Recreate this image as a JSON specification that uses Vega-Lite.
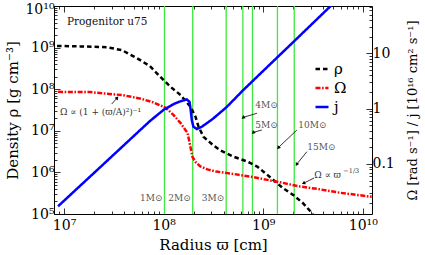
{
  "$schema": "https://vega.github.io/schema/vega-lite/v6.json",
  "width": 318,
  "height": 208,
  "autosize": {"type": "none"},
  "padding": {"left": 54, "top": 6, "right": 53, "bottom": 41},
  "background": "white",
  "config": {
    "view": {"stroke": null},
    "axis": {
      "grid": false,
      "domainColor": "black",
      "domainWidth": 1,
      "tickColor": "black",
      "tickWidth": 0.8,
      "labelColor": "black",
      "titleColor": "black",
      "labelFont": "DejaVu Serif",
      "titleFont": "DejaVu Serif",
      "titleFontWeight": "normal",
      "labelFontSize": 14,
      "titleFontSize": 15,
      "labelOverlap": false,
      "labelFlush": false,
      "labelBound": false
    }
  },
  "datasets": {
    "curves": [
      {"s": "ρ", "x": 8.51e6, "y": 1.10e9},
      {"s": "ρ", "x": 1.45e7, "y": 1.07e9},
      {"s": "ρ", "x": 2.69e7, "y": 1.02e9},
      {"s": "ρ", "x": 3.80e7, "y": 8.71e8},
      {"s": "ρ", "x": 5.37e7, "y": 5.62e8},
      {"s": "ρ", "x": 7.24e7, "y": 3.63e8},
      {"s": "ρ", "x": 8.51e7, "y": 2.45e8},
      {"s": "ρ", "x": 1.0e8, "y": 1.66e8},
      {"s": "ρ", "x": 1.17e8, "y": 1.15e8},
      {"s": "ρ", "x": 1.48e8, "y": 7.24e7},
      {"s": "ρ", "x": 1.86e8, "y": 3.80e7},
      {"s": "ρ", "x": 2.09e8, "y": 2.19e7},
      {"s": "ρ", "x": 2.24e8, "y": 1.26e7},
      {"s": "ρ", "x": 2.51e8, "y": 7.24e6},
      {"s": "ρ", "x": 2.82e8, "y": 5.62e6},
      {"s": "ρ", "x": 3.24e8, "y": 4.27e6},
      {"s": "ρ", "x": 3.72e8, "y": 3.39e6},
      {"s": "ρ", "x": 5.01e8, "y": 2.40e6},
      {"s": "ρ", "x": 6.92e8, "y": 1.82e6},
      {"s": "ρ", "x": 8.71e8, "y": 1.38e6},
      {"s": "ρ", "x": 1.10e9, "y": 8.71e5},
      {"s": "ρ", "x": 1.32e9, "y": 6.03e5},
      {"s": "ρ", "x": 1.58e9, "y": 4.17e5},
      {"s": "ρ", "x": 2.0e9, "y": 2.88e5},
      {"s": "ρ", "x": 2.51e9, "y": 1.82e5},
      {"s": "ρ", "x": 3.16e9, "y": 1.0e5},
      {"s": "Ω", "x": 8.71e6, "y": 2.01},
      {"s": "Ω", "x": 1.82e7, "y": 1.99},
      {"s": "Ω", "x": 3.89e7, "y": 1.75},
      {"s": "Ω", "x": 5.75e7, "y": 1.53},
      {"s": "Ω", "x": 7.76e7, "y": 1.31},
      {"s": "Ω", "x": 1.05e8, "y": 1.04},
      {"s": "Ω", "x": 1.26e8, "y": 0.764},
      {"s": "Ω", "x": 1.48e8, "y": 0.548},
      {"s": "Ω", "x": 1.74e8, "y": 0.362},
      {"s": "Ω", "x": 1.86e8, "y": 0.203},
      {"s": "Ω", "x": 1.95e8, "y": 0.134},
      {"s": "Ω", "x": 2.09e8, "y": 0.109},
      {"s": "Ω", "x": 2.34e8, "y": 0.0904},
      {"s": "Ω", "x": 2.75e8, "y": 0.0798},
      {"s": "Ω", "x": 3.39e8, "y": 0.0728},
      {"s": "Ω", "x": 5.01e8, "y": 0.0662},
      {"s": "Ω", "x": 7.41e8, "y": 0.0592},
      {"s": "Ω", "x": 1.10e9, "y": 0.0516},
      {"s": "Ω", "x": 1.58e9, "y": 0.0455},
      {"s": "Ω", "x": 2.34e9, "y": 0.0391},
      {"s": "Ω", "x": 3.47e9, "y": 0.0355},
      {"s": "Ω", "x": 5.89e9, "y": 0.0302},
      {"s": "Ω", "x": 1.23e10, "y": 0.0255},
      {"s": "j", "x": 8.71e6, "y": 0.0172},
      {"s": "j", "x": 2.30e7, "y": 0.0869},
      {"s": "j", "x": 5.80e7, "y": 0.408},
      {"s": "j", "x": 7.30e7, "y": 0.598},
      {"s": "j", "x": 1.01e8, "y": 0.966},
      {"s": "j", "x": 1.30e8, "y": 1.24},
      {"s": "j", "x": 1.50e8, "y": 1.37},
      {"s": "j", "x": 1.71e8, "y": 1.47},
      {"s": "j", "x": 1.82e8, "y": 1.33},
      {"s": "j", "x": 1.87e8, "y": 0.942},
      {"s": "j", "x": 1.92e8, "y": 0.622},
      {"s": "j", "x": 1.99e8, "y": 0.471},
      {"s": "j", "x": 2.16e8, "y": 0.428},
      {"s": "j", "x": 2.42e8, "y": 0.471},
      {"s": "j", "x": 3.10e8, "y": 0.647},
      {"s": "j", "x": 4.30e8, "y": 1.07},
      {"s": "j", "x": 6.25e8, "y": 2.13},
      {"s": "j", "x": 1.0e9, "y": 4.81},
      {"s": "j", "x": 2.0e9, "y": 15.9},
      {"s": "j", "x": 5.62e9, "y": 95.5}
    ]
  },
  "resolve": {"scale": {"y": "independent"}, "axis": {"x": "independent"}},
  "layer": [
    {
      "data": {"values": [
        {"m": "1", "x": 1.02e8}, {"m": "2", "x": 1.96e8}, {"m": "3", "x": 4.25e8},
        {"m": "4", "x": 6.25e8}, {"m": "5", "x": 7.8e8}, {"m": "10", "x": 1.39e9},
        {"m": "15", "x": 2.05e9}
      ]},
      "mark": {"type": "rule", "color": "#3ee83e", "strokeWidth": 1.3},
      "encoding": {
        "x": {"field": "x", "type": "quantitative", "scale": {"type": "log", "domain": [7.93e6, 1.2376e10]}, "axis": null}
      }
    },
    {
      "data": {"values": [
        {"t": "1M⊙", "x": 1.02e8, "y": 2.43e5},
        {"t": "2M⊙", "x": 1.96e8, "y": 2.43e5},
        {"t": "3M⊙", "x": 4.25e8, "y": 2.43e5}
      ]},
      "mark": {"type": "text", "align": "right", "baseline": "middle", "dx": -2, "font": "DejaVu Serif", "fontSize": 9, "color": "#555"},
      "encoding": {
        "x": {"field": "x", "type": "quantitative", "scale": {"type": "log", "domain": [7.93e6, 1.2376e10]}, "axis": null},
        "y": {"field": "y", "type": "quantitative", "scale": {"type": "log", "domain": [1e5, 1e10]}, "axis": null},
        "text": {"field": "t"}
      }
    },
    {
      "data": {"name": "curves"},
      "transform": [{"filter": "datum.s === 'ρ'"}],
      "mark": {"type": "line", "strokeWidth": 2.5, "clip": true},
      "encoding": {
        "x": {"field": "x", "type": "quantitative", "scale": {"type": "log", "domain": [7.93e6, 1.2376e10]},
          "axis": {"orient": "bottom", "title": "Radius ϖ [cm]", "titleY": 30, "titleBaseline": "middle",
            "values": [8e6,9e6,1e7,2e7,3e7,4e7,5e7,6e7,7e7,8e7,9e7,1e8,2e8,3e8,4e8,5e8,6e8,7e8,8e8,9e8,1e9,2e9,3e9,4e9,5e9,6e9,7e9,8e9,9e9,1e10],
            "tickSize": {"condition": {"test": "abs(log(datum.value)/LN10 - round(log(datum.value)/LN10)) < 0.001", "value": -6}, "value": -3},
            "labelPadding": 10,
            "labelExpr": "abs(log(datum.value)/LN10 - round(log(datum.value)/LN10)) < 0.001 ? '10' + ['⁰','¹','²','³','⁴','⁵','⁶','⁷','⁸','⁹','¹⁰'][round(log(datum.value)/LN10)] : ''"}},
        "y": {"field": "y", "type": "quantitative", "scale": {"type": "log", "domain": [1e5, 1e10]},
          "axis": {"orient": "left", "title": "Density ρ [g cm⁻³]", "titleX": -42, "titleY": 104, "titleAngle": 270, "titleAlign": "center", "titleBaseline": "middle",
            "values": [2e5,3e5,4e5,5e5,6e5,7e5,8e5,9e5,1e5,1e6,2e6,3e6,4e6,5e6,6e6,7e6,8e6,9e6,1e7,2e7,3e7,4e7,5e7,6e7,7e7,8e7,9e7,1e8,2e8,3e8,4e8,5e8,6e8,7e8,8e8,9e8,1e9,2e9,3e9,4e9,5e9,6e9,7e9,8e9,9e9,1e10],
            "tickSize": {"condition": {"test": "abs(log(datum.value)/LN10 - round(log(datum.value)/LN10)) < 0.001", "value": -6}, "value": -3},
            "labelPadding": 6,
            "labelOffset": {"condition": {"test": "datum.value > 5e9", "value": 3}, "value": 0},
            "labelExpr": "abs(log(datum.value)/LN10 - round(log(datum.value)/LN10)) < 0.001 ? '10' + ['⁰','¹','²','³','⁴','⁵','⁶','⁷','⁸','⁹','¹⁰'][round(log(datum.value)/LN10)] : ''"}},
        "color": {"field": "s", "type": "nominal", "scale": {"domain": ["ρ", "Ω", "j"], "range": ["#000000", "#ff0000", "#0000ff"]},
          "legend": {"orient": "none", "legendX": 260, "legendY": 55, "title": null, "symbolType": "stroke", "symbolSize": 169, "symbolStrokeWidth": 2.5, "labelFont": "DejaVu Serif", "labelFontSize": 15, "labelOffset": 4, "rowPadding": 3, "padding": 0}},
        "strokeDash": {"field": "s", "type": "nominal", "scale": {"domain": ["ρ", "Ω", "j"], "range": [[4.5, 3], [5, 1.6, 1.6, 1.6], [1, 0]]},
          "legend": {"orient": "none", "legendX": 260, "legendY": 55, "title": null, "symbolType": "stroke", "symbolSize": 169, "symbolStrokeWidth": 2.5, "labelFont": "DejaVu Serif", "labelFontSize": 15, "labelOffset": 4, "rowPadding": 3, "padding": 0}}
      }
    },
    {
      "data": {"name": "curves"},
      "transform": [{"filter": "datum.s !== 'ρ'"}],
      "mark": {"type": "line", "strokeWidth": 2.5, "clip": true},
      "encoding": {
        "x": {"field": "x", "type": "quantitative", "scale": {"type": "log", "domain": [7.93e6, 1.2376e10]},
          "axis": {"orient": "top", "title": null, "labels": false,
            "values": [8e6,9e6,1e7,2e7,3e7,4e7,5e7,6e7,7e7,8e7,9e7,1e8,2e8,3e8,4e8,5e8,6e8,7e8,8e8,9e8,1e9,2e9,3e9,4e9,5e9,6e9,7e9,8e9,9e9,1e10],
            "tickSize": {"condition": {"test": "abs(log(datum.value)/LN10 - round(log(datum.value)/LN10)) < 0.001", "value": -6}, "value": -3}}},
        "y": {"field": "y", "type": "quantitative", "scale": {"type": "log", "domain": [0.01247, 71.6]},
          "axis": {"orient": "right", "title": "Ω [rad s⁻¹] / j [10¹⁶ cm² s⁻¹]", "titleFontSize": 13, "titleAngle": 270, "titleX": 40, "titleY": 104, "titleAlign": "center", "titleBaseline": "middle",
            "values": [0.02,0.03,0.04,0.05,0.06,0.07,0.08,0.09,0.1,0.2,0.3,0.4,0.5,0.6,0.7,0.8,0.9,1,2,3,4,5,6,7,8,9,10,20,30,40,50,60,70],
            "tickSize": {"condition": {"test": "abs(log(datum.value)/LN10 - round(log(datum.value)/LN10)) < 0.001", "value": -6}, "value": -3},
            "labelPadding": 6,
            "labelExpr": "abs(log(datum.value)/LN10 - round(log(datum.value)/LN10)) < 0.001 ? format(datum.value, '~g') : ''"}},
        "color": {"field": "s", "type": "nominal", "scale": {"domain": ["ρ", "Ω", "j"], "range": ["#000000", "#ff0000", "#0000ff"]}},
        "strokeDash": {"field": "s", "type": "nominal", "scale": {"domain": ["ρ", "Ω", "j"], "range": [[4.5, 3], [5, 1.6, 1.6, 1.6], [1, 0]]}}
      }
    },
    {
      "data": {"values": [{"t": "Progenitor u75", "x": 1.07e7, "y": 4.12e9}]},
      "mark": {"type": "text", "align": "left", "baseline": "middle", "font": "DejaVu Serif", "fontSize": 10.5, "color": "#111"},
      "encoding": {
        "x": {"field": "x", "type": "quantitative", "scale": {"type": "log", "domain": [7.93e6, 1.2376e10]}, "axis": null},
        "y": {"field": "y", "type": "quantitative", "scale": {"type": "log", "domain": [1e5, 1e10]}, "axis": null},
        "text": {"field": "t"}
      }
    },
    {
      "data": {"values": [
        {"t": "4M⊙", "x": 8.32e8, "y": 4.17e7},
        {"t": "5M⊙", "x": 8.32e8, "y": 1.38e7},
        {"t": "10M⊙", "x": 2.25e9, "y": 1.38e7},
        {"t": "15M⊙", "x": 2.77e9, "y": 4.15e6}
      ]},
      "mark": {"type": "text", "align": "left", "baseline": "middle", "font": "DejaVu Serif", "fontSize": 9, "color": "#555"},
      "encoding": {
        "x": {"field": "x", "type": "quantitative", "scale": {"type": "log", "domain": [7.93e6, 1.2376e10]}, "axis": null},
        "y": {"field": "y", "type": "quantitative", "scale": {"type": "log", "domain": [1e5, 1e10]}, "axis": null},
        "text": {"field": "t"}
      }
    },
    {
      "data": {"values": [
        {"t": "Ω ∝ (1 + (ϖ/A)²)⁻¹", "x": 9.12e6, "y": 2.88e7},
        {"t": "Ω ∝ ϖ", "x": 3.26e9, "y": 8.65e5}
      ]},
      "mark": {"type": "text", "align": "left", "baseline": "middle", "font": "DejaVu Serif", "fontSize": 9, "color": "#333"},
      "encoding": {
        "x": {"field": "x", "type": "quantitative", "scale": {"type": "log", "domain": [7.93e6, 1.2376e10]}, "axis": null},
        "y": {"field": "y", "type": "quantitative", "scale": {"type": "log", "domain": [1e5, 1e10]}, "axis": null},
        "text": {"field": "t"}
      }
    },
    {
      "data": {"values": [{"t": "−1/3", "x": 3.26e9, "y": 8.65e5}]},
      "mark": {"type": "text", "align": "left", "baseline": "middle", "dx": 29, "dy": -4, "font": "DejaVu Serif", "fontSize": 6.5, "color": "#333"},
      "encoding": {
        "x": {"field": "x", "type": "quantitative", "scale": {"type": "log", "domain": [7.93e6, 1.2376e10]}, "axis": null},
        "y": {"field": "y", "type": "quantitative", "scale": {"type": "log", "domain": [1e5, 1e10]}, "axis": null},
        "text": {"field": "t"}
      }
    },
    {
      "data": {"name": "arrows", "values": [
        {"a": "4M", "x": 8.65e8, "y": 2.64e7, "x2": 6.34e8, "y2": 2.11e7},
        {"a": "5M", "x": 9.70e8, "y": 1.045e7, "x2": 8.0e8, "y2": 9.2e6},
        {"a": "10M", "x": 2.18e9, "y": 1.045e7, "x2": 1.43e9, "y2": 4.01e6},
        {"a": "15M", "x": 2.75e9, "y": 3.15e6, "x2": 2.18e9, "y2": 1.59e6},
        {"a": "Ωs", "x": 3.24e9, "y": 7.33e5, "x2": 2.57e9, "y2": 5.56e5},
        {"a": "Ωc", "x": 3.01e7, "y": 4.41e7, "x2": 3.39e7, "y2": 6.04e7}
      ]},
      "layer": [
        {
          "mark": {"type": "rule", "color": "black", "strokeWidth": 0.8},
          "encoding": {
            "x": {"field": "x", "type": "quantitative", "scale": {"type": "log", "domain": [7.93e6, 1.2376e10]}, "axis": null},
            "y": {"field": "y", "type": "quantitative", "scale": {"type": "log", "domain": [1e5, 1e10]}, "axis": null},
            "x2": {"field": "x2"},
            "y2": {"field": "y2"}
          }
        },
        {
          "mark": {"type": "point", "shape": "triangle", "filled": true, "color": "black", "size": 16, "opacity": 1},
          "encoding": {
            "x": {"field": "x2", "type": "quantitative", "scale": {"type": "log", "domain": [7.93e6, 1.2376e10]}, "axis": null},
            "y": {"field": "y2", "type": "quantitative", "scale": {"type": "log", "domain": [1e5, 1e10]}, "axis": null},
            "angle": {"field": "a", "type": "nominal", "scale": {"type": "ordinal", "domain": ["4M", "5M", "10M", "15M", "Ωs", "Ωc"], "range": [233, 225, 218, 209, 243, 41]}, "legend": null}
          }
        }
      ]
    }
  ]
}
